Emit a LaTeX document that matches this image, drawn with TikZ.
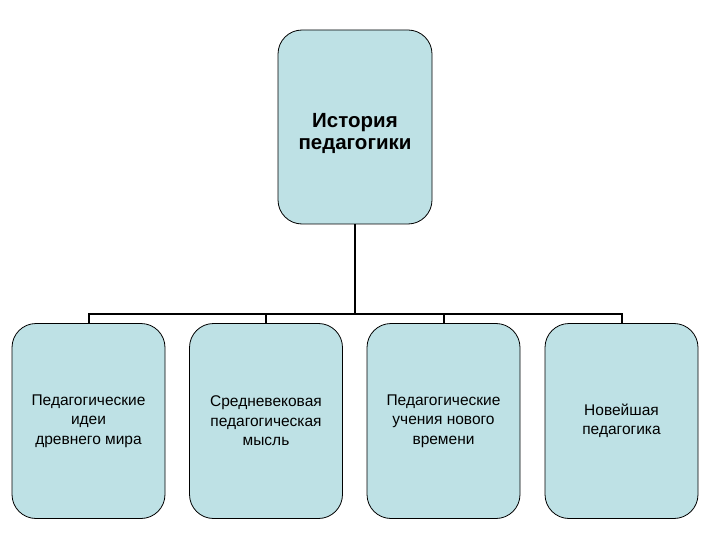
\documentclass[tikz,border=0pt]{standalone}
\usepackage{fontspec}
\setmainfont{Liberation Sans}
\definecolor{boxfill}{RGB}{190,225,229}
\begin{document}
\begin{tikzpicture}[x=1pt,y=-1pt,
  box/.style={draw=black,line width=0.8pt,fill=boxfill,rounded corners=24pt,inner sep=0pt,align=center},
  topbox/.style={box,minimum width=154pt,minimum height=194pt,font=\fontsize{20.5}{22.5}\selectfont\bfseries,text depth=0pt},
  subbox/.style={box,minimum width=153pt,minimum height=195pt,font=\fontsize{15.5}{19.5}\selectfont},
  conn/.style={draw=black,line width=2pt}]
\useasboundingbox (0,0) rectangle (720,540);
\node[topbox] (top) at (355,127) {\raisebox{2pt}{\parbox{150pt}{\centering История\\педагогики}}};
\node[subbox] (b1) at (88.5,421) {Педагогические\\идеи\\древнего мира};
\node[subbox] (b2) at (266,421) {Средневековая\\педагогическая\\мысль};
\node[subbox] (b3) at (443.5,421) {Педагогические\\учения нового\\времени};
\node[subbox] (b4) at (621.5,421) {Новейшая\\педагогика};
\coordinate (bus) at (355,314);
\draw[conn] (top.south) -- (bus);
\draw[conn] (b1.north) -- (b1.north |- bus) -- (b4.north |- bus) -- (b4.north);
\draw[conn] (b2.north) -- (b2.north |- bus);
\draw[conn] (b3.north) -- (b3.north |- bus);
\end{tikzpicture}
\end{document}
